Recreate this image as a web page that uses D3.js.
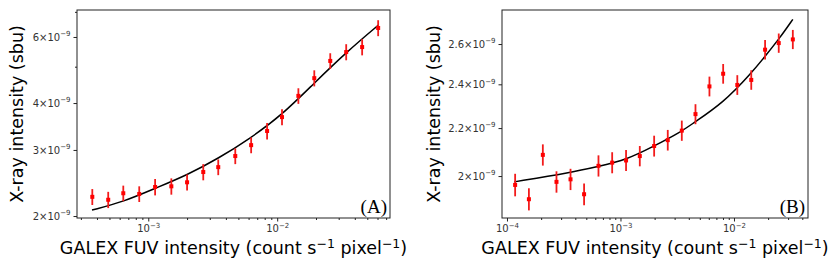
<!DOCTYPE html>
<html>
<head>
<meta charset="utf-8">
<script src="https://cdn.jsdelivr.net/npm/d3@7"></script>
<style>
  body { margin: 0; background: #fff; }
  svg text { font-family: "DejaVu Sans", sans-serif; }
</style>
</head>
<body>
<div id="chart"></div>
<script>
// ---- panel A data ----
var fuvA = [3.68e-4, 4.89e-4, 6.40e-4, 8.51e-4, 1.13e-3, 1.51e-3, 2.00e-3, 2.67e-3, 3.49e-3, 4.73e-3,
            6.28e-3, 8.35e-3, 1.09e-2, 1.46e-2, 1.94e-2, 2.58e-2, 3.43e-2, 4.56e-2, 6.07e-2];
var xrayA = [2.25e-9, 2.21e-9, 2.30e-9, 2.29e-9, 2.39e-9, 2.40e-9, 2.46e-9, 2.62e-9, 2.70e-9, 2.89e-9,
             3.09e-9, 3.37e-9, 3.67e-9, 4.18e-9, 4.66e-9, 5.18e-9, 5.47e-9, 5.64e-9, 6.34e-9];
var errA = [0.11e-9, 0.11e-9, 0.11e-9, 0.11e-9, 0.12e-9, 0.12e-9, 0.12e-9, 0.13e-9, 0.13e-9, 0.14e-9,
            0.15e-9, 0.17e-9, 0.18e-9, 0.20e-9, 0.23e-9, 0.25e-9, 0.27e-9, 0.28e-9, 0.31e-9];
var fitFuvA = [3.66e-4, 6.44e-4, 1.13e-3, 2.00e-3, 3.51e-3, 6.18e-3, 1.09e-2, 1.91e-2, 3.47e-2, 6.10e-2];
var fitXrayA = [2.075e-9, 2.183e-9, 2.370e-9, 2.572e-9, 2.850e-9, 3.221e-9, 3.718e-9, 4.50e-9, 5.479e-9, 6.455e-9];
var yTicksA = [2e-9, 3e-9, 4e-9, 6e-9];
var yTickMantA = ["2", "3", "4", "6"];
var yMinorA = [5e-9, 7e-9];
var xTicksA = [1e-3, 1e-2];
var xTickExpA = ["−3", "−2"];

// ---- panel B data ----
var fuvB = [1.18e-4, 1.56e-4, 2.07e-4, 2.73e-4, 3.63e-4, 4.78e-4, 6.40e-4, 8.45e-4, 1.12e-3, 1.48e-3,
            1.98e-3, 2.61e-3, 3.47e-3, 4.58e-3, 6.08e-3, 8.03e-3, 1.07e-2, 1.42e-2, 1.88e-2, 2.48e-2, 3.30e-2];
var xrayB = [1.965e-9, 1.910e-9, 2.086e-9, 1.977e-9, 1.987e-9, 1.929e-9, 2.041e-9, 2.054e-9, 2.063e-9, 2.081e-9,
             2.123e-9, 2.148e-9, 2.189e-9, 2.262e-9, 2.390e-9, 2.451e-9, 2.397e-9, 2.421e-9, 2.571e-9, 2.605e-9, 2.624e-9];
var errB = [0.044e-9, 0.042e-9, 0.044e-9, 0.042e-9, 0.042e-9, 0.042e-9, 0.043e-9, 0.043e-9, 0.043e-9, 0.042e-9,
            0.044e-9, 0.044e-9, 0.044e-9, 0.045e-9, 0.047e-9, 0.048e-9, 0.047e-9, 0.047e-9, 0.050e-9, 0.050e-9, 0.050e-9];
var fitFuvB = [1.16e-4, 3.56e-4, 6.53e-4, 1.12e-3, 1.93e-3, 3.43e-3, 4.34e-3, 7.96e-3, 1.42e-2, 1.92e-2, 2.52e-2, 3.30e-2];
var fitXrayB = [1.977e-9, 2.013e-9, 2.040e-9, 2.065e-9, 2.120e-9, 2.184e-9, 2.221e-9, 2.311e-9, 2.453e-9, 2.544e-9, 2.630e-9, 2.731e-9];
var yTicksB = [2e-9, 2.2e-9, 2.4e-9, 2.6e-9];
var yTickMantB = ["2", "2.2", "2.4", "2.6"];
var yMinorB = [];
var xTicksB = [1e-4, 1e-3, 1e-2];
var xTickExpB = ["−4", "−3", "−2"];

(function() {
    'use strict';

    var svg = d3.select("#chart").append("svg")
        .attr("width", 830)
        .attr("height", 277);

    function drawPanel(p) {
        var x = d3.scaleLog().domain(p.xDomain).range([p.left, p.right]);
        var y = d3.scaleLog().domain(p.yDomain).range([p.bottom, p.top]);
        var g = svg.append("g");

        // minor x ticks: every 2..9 multiple inside the domain
        var xMinor = x.ticks().filter(function(v) {
            return Math.abs(Math.log10(v) - Math.round(Math.log10(v))) > 1e-6;
        });
        g.append("g")
            .attr("transform", "translate(0," + p.bottom + ")")
            .call(d3.axisBottom(x).tickValues(xMinor).tickSize(2).tickFormat(""))
            .call(function(a) { a.select(".domain").remove(); });

        var xa = g.append("g")
            .attr("transform", "translate(0," + p.bottom + ")")
            .call(d3.axisBottom(x).tickValues(p.xTicks).tickSize(3.5).tickPadding(3.5));
        xa.select(".domain").remove();
        xa.selectAll(".tick text").each(function(d, i) {
            var t = d3.select(this).text(null)
                .attr("font-size", 10).attr("fill", "#333").attr("font-family", "DejaVu Sans");
            t.append("tspan").text("10");
            t.append("tspan").attr("dy", -4.5).attr("font-size", 7).text(p.xTickExp[i]);
        });

        if (p.yMinor.length) {
            g.append("g")
                .attr("transform", "translate(" + p.left + ",0)")
                .call(d3.axisLeft(y).tickValues(p.yMinor).tickSize(2).tickFormat(""))
                .call(function(a) { a.select(".domain").remove(); });
        }
        var ya = g.append("g")
            .attr("transform", "translate(" + p.left + ",0)")
            .call(d3.axisLeft(y).tickValues(p.yTicks).tickSize(3.5).tickPadding(3));
        ya.select(".domain").remove();
        ya.selectAll(".tick text").each(function(d, i) {
            var t = d3.select(this).text(null)
                .attr("font-size", 10).attr("fill", "#333").attr("font-family", "DejaVu Sans");
            t.append("tspan").text(p.yTickMant[i] + "×10");
            t.append("tspan").attr("dy", -4.5).attr("font-size", 7).text("−9");
        });
        g.selectAll(".tick line").attr("stroke", "#222");

        // frame
        g.append("rect")
            .attr("x", p.left).attr("y", p.top)
            .attr("width", p.right - p.left).attr("height", p.bottom - p.top)
            .attr("fill", "none").attr("stroke", "#222").attr("stroke-width", 1);

        // fit line
        var pts = p.fitX.map(function(v, i) { return [v, p.fitY[i]]; });
        g.append("path")
            .datum(pts)
            .attr("fill", "none")
            .attr("stroke", "#000")
            .attr("stroke-width", 1.5)
            .attr("d", d3.line()
                .x(function(d) { return x(d[0]); })
                .y(function(d) { return y(d[1]); })
                .curve(d3.curveBasis));

        // error bars + points
        var data = p.xs.map(function(v, i) { return { x: v, y: p.ys[i], e: p.es[i] }; });
        g.selectAll(".err").data(data).enter().append("line")
            .attr("x1", function(d) { return x(d.x); })
            .attr("x2", function(d) { return x(d.x); })
            .attr("y1", function(d) { return y(d.y - d.e); })
            .attr("y2", function(d) { return y(d.y + d.e); })
            .attr("stroke", "#f21b1b")
            .attr("stroke-width", 1.8);
        g.selectAll(".pt").data(data).enter().append("rect")
            .attr("x", function(d) { return x(d.x) - 2; })
            .attr("y", function(d) { return y(d.y) - 2; })
            .attr("width", 4).attr("height", 4)
            .attr("fill", "#ff0000");

        // panel tag
        g.append("text")
            .attr("x", p.right - 3).attr("y", p.bottom - 5)
            .attr("text-anchor", "end")
            .style("font-family", "'Liberation Serif', serif")
            .attr("font-size", 19)
            .text(p.tag);

        // axis titles
        g.append("text")
            .attr("transform", "translate(" + p.yLabelX + "," + ((p.top + p.bottom) / 2) + ") rotate(-90)")
            .attr("text-anchor", "middle")
            .attr("dominant-baseline", "middle")
            .attr("font-size", 17.5)
            .text("X-ray intensity (sbu)");

        var xl = g.append("text")
            .attr("x", (p.left + p.right) / 2)
            .attr("y", 254)
            .attr("text-anchor", "middle")
            .attr("font-size", 17.5);
        xl.append("tspan").text("GALEX FUV intensity (count s");
        xl.append("tspan").attr("dy", -6.5).attr("font-size", 12.5).text("−1");
        xl.append("tspan").attr("dy", 6.5).text(" pixel");
        xl.append("tspan").attr("dy", -6.5).attr("font-size", 12.5).text("−1");
        xl.append("tspan").attr("dy", 6.5).text(")");
    }

    drawPanel({
        left: 77, right: 390, top: 10, bottom: 218,
        xDomain: [2.8e-4, 0.075], yDomain: [1.976e-9, 7.08e-9],
        xs: fuvA, ys: xrayA, es: errA, fitX: fitFuvA, fitY: fitXrayA,
        xTicks: xTicksA, xTickExp: xTickExpA,
        yTicks: yTicksA, yTickMant: yTickMantA, yMinor: yMinorA,
        tag: "(A)", yLabelX: 18
    });
    drawPanel({
        left: 502, right: 808, top: 10, bottom: 218,
        xDomain: [9.04e-5, 4.49e-2], yDomain: [1.84e-9, 2.782e-9],
        xs: fuvB, ys: xrayB, es: errB, fitX: fitFuvB, fitY: fitXrayB,
        xTicks: xTicksB, xTickExp: xTickExpB,
        yTicks: yTicksB, yTickMant: yTickMantB, yMinor: yMinorB,
        tag: "(B)", yLabelX: 435
    });
})();
</script>
</body>
</html>
